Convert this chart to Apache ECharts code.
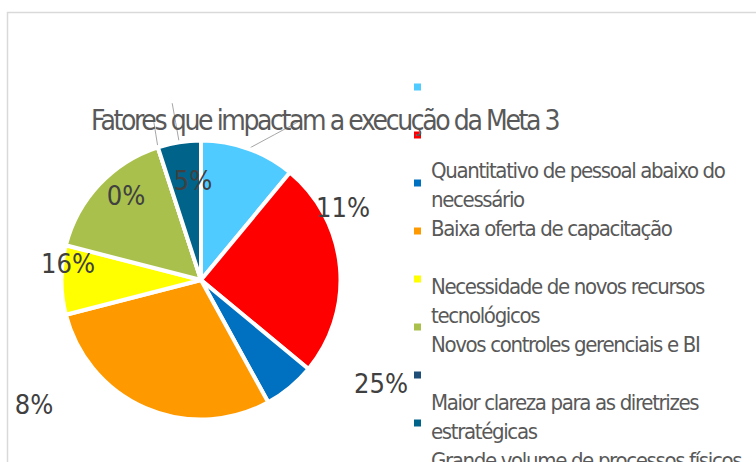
<!DOCTYPE html>
<html lang="pt">
  <head>
    <meta charset="UTF-8" />
    <title>Fatores que impactam a execução da Meta 3</title>
    <style>
      html, body { margin: 0; padding: 0; background: #fff; }
      #app { width: 756px; height: 462px; }
      /* texto bem apertado, como no original */
      #app text[style*="28px"] { letter-spacing: -2.4px; }
      #app text[style*="22px"] { letter-spacing: -1.35px; }
    </style>
  </head>
  <body>
    <div id="app"></div>
    <script src="https://cdn.jsdelivr.net/npm/echarts@6/dist/echarts.min.js"></script>
    <script>
      // categorias (os dois primeiros itens nao tem nome na legenda)
      var categories = [
        ' ',
        '  ',
        'Quantitativo de pessoal abaixo do\nnecessário',
        'Baixa oferta de capacitação',
        'Necessidade de novos recursos\ntecnológicos',
        'Novos controles gerenciais e BI',
        'Maior clareza para as diretrizes\nestratégicas',
        'Grande volume de processos físicos'
      ]
      var values = [11, 25, 6, 29, 8, 16, 0, 5]
      var colors = ['#4FCBFF', '#FF0000', '#0070C0', '#FF9900', '#FFFF00', '#A9C14C', '#1F4E79', '#00638A']
      var showLabel = [true, true, false, false, true, true, true, true]

      // onde cada rotulo aparece (deslocamento a partir do centro da pizza)
      var labelOffsets = [[142, -73], [180, 103], null, null, [-167, 124], [-133, -17], [-75, -85], [-8, -100]]
      // linhas de chamada que saem da borda da fatia
      var leaderLines = { 0: [52, -28], 6: [-4, -25], 7: [-7, -39] }

      var cx = 201
      var cy = 280
      var font = "'DejaVu Sans Condensed', 'Liberation Sans Narrow', sans-serif"

      var chart = echarts.init(document.getElementById('app'), null, { renderer: 'svg' })

      var data = categories.map(function(name, i) {
        return {
          name: name,
          value: values[i],
          itemStyle: { color: colors[i] },
          label: { show: showLabel[i] },
          labelLine: { show: !!leaderLines[i] }
        }
      })

      var option = {
        animation: false,
        title: {
          text: 'Fatores que impactam a execução da Meta 3',
          left: 86,
          top: 101,
          textStyle: { fontSize: 28, fontWeight: 'normal', color: '#595959', fontFamily: font }
        },
        graphic: [
          {
            type: 'rect',
            z: -10,
            shape: { x: 7.5, y: 12.5, width: 780, height: 480 },
            style: { fill: 'none', stroke: '#D9D9D9', lineWidth: 1.5 }
          }
        ],
        legend: [
          {
            // so os quadradinhos
            orient: 'vertical',
            left: 414,
            top: 83.5,
            height: 600,
            padding: 0,
            itemGap: 41,
            itemWidth: 7,
            itemHeight: 7,
            icon: 'rect',
            selectedMode: false,
            itemStyle: { borderWidth: 0 },
            textStyle: { fontSize: 7, lineHeight: 7 },
            formatter: function() { return '' },
            data: categories
          },
          {
            // so os textos
            orient: 'vertical',
            left: 426,
            top: 40,
            height: 600,
            padding: 0,
            itemGap: 0,
            itemWidth: 0,
            itemHeight: 0,
            icon: 'none',
            selectedMode: false,
            textStyle: { fontSize: 22, lineHeight: 29, color: '#595959', fontFamily: font },
            formatter: function(name) {
              return name.indexOf('\n') < 0 ? name + '\n ' : name
            },
            data: categories
          }
        ],
        series: [
          {
            type: 'pie',
            center: [cx, cy],
            radius: 139.5,
            startAngle: 90,
            clockwise: true,
            avoidLabelOverlap: false,
            emphasis: { disabled: true },
            itemStyle: { borderColor: '#ffffff', borderWidth: 4 },
            label: {
              position: 'outside',
              fontSize: 27,
              color: '#404040',
              fontFamily: font,
              formatter: function(p) {
                return p.value + '%'
              }
            },
            labelLine: {
              length: 10,
              length2: 10,
              lineStyle: { color: '#A6A6A6', width: 1 }
            },
            labelLayout: function(params) {
              var i = params.dataIndex
              var off = labelOffsets[i]
              if (!off) return {}
              var res = { x: cx + off[0], y: cy + off[1], align: 'center', verticalAlign: 'middle' }
              var v = leaderLines[i]
              if (v && params.labelLinePoints) {
                var p = params.labelLinePoints[0]
                res.labelLinePoints = [
                  [p[0], p[1]],
                  [p[0] + v[0] / 2, p[1] + v[1] / 2],
                  [p[0] + v[0], p[1] + v[1]]
                ]
              }
              return res
            },
            data: data
          }
        ]
      }
      chart.setOption(option)
    </script>
  </body>
</html>
